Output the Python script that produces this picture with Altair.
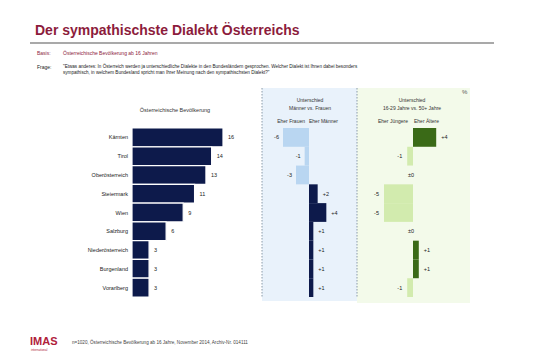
import altair as alt
import pandas as pd

regions = ["Kärnten", "Tirol", "Oberösterreich", "Steiermark", "Wien", "Salzburg",
           "Niederösterreich", "Burgenland", "Vorarlberg"]
total = [16, 14, 13, 11, 9, 6, 3, 3, 3]
gender_diff = [-6, -1, -3, 2, 4, 1, 1, 1, 1]
age_diff = [4, -1, 0, -5, -5, 0, 1, 1, -1]

title_text = "Der sympathischste Dialekt Österreichs"
basis_text = "Österreichische Bevölkerung ab 16 Jahren"
frage_lines = [
    "\"Etwas anderes: In Österreich werden ja unterschiedliche Dialekte in den Bundesländern gesprochen. Welcher Dialekt ist Ihnen dabei besonders",
    "sympathisch, in welchem Bundesland spricht man Ihrer Meinung nach den sympathischsten Dialekt?\"",
]
footer_text = "n=1020, Österreichische Bevölkerung ab 16 Jahre, November 2014, Archiv-Nr. 014111"

FONT = "Liberation Sans"


def fmt(v):
    if v == 0:
        return "±0"
    return f"+{v}" if v > 0 else f"{v}"


df = pd.DataFrame({
    "region": regions,
    "total": total,
    "gender": gender_diff,
    "age": age_diff,
})
df["total_lbl"] = df["total"].astype(str)
df["gender_lbl"] = [fmt(v) for v in gender_diff]
df["age_lbl"] = [fmt(v) for v in age_diff]

base = alt.Chart(df)
Y = alt.Y("region:N", sort=regions,
          scale=alt.Scale(domain=regions, range=[128, 297], paddingInner=0, paddingOuter=0),
          axis=None)

one = alt.Data(values=[{"a": 1}])


def txt(s, x, y, size=5.5, color="#333333", align="left", weight="normal", baseline="middle"):
    return alt.Chart(one).mark_text(
        text=s, fontSize=size, color=color, align=align, fontWeight=weight,
        baseline=baseline, font=FONT
    ).encode(x=alt.value(x), y=alt.value(y))


def rect(x1, x2, y1, y2, color):
    return alt.Chart(one).mark_rect(color=color).encode(
        x=alt.value(x1), x2=alt.value(x2), y=alt.value(y1), y2=alt.value(y2))


def vline(x, y1, y2):
    return alt.Chart(one).mark_rule(color="#8a9aa8", strokeDash=[1.5, 1.5], strokeWidth=1).encode(
        x=alt.value(x), y=alt.value(y1), y2=alt.value(y2))


layers = []
# panel backgrounds
layers.append(rect(262, 357, 88, 301, "#e9f2fb"))
layers.append(rect(357, 470, 88, 303, "#f3faea"))
layers.append(vline(262, 88, 297))
layers.append(vline(357, 88, 297))

# header line
layers.append(alt.Chart(one).mark_rule(color="#8d8d8d", strokeWidth=1.5).encode(
    x=alt.value(30), x2=alt.value(494), y=alt.value(43)))

# Title and texts
layers.append(txt(title_text, 35, 31, size=14, color="#8c1c3c", weight="bold"))
layers.append(txt("Basis:", 37, 53, size=5, color="#8c1c3c"))
layers.append(txt(basis_text, 63, 53, size=5, color="#8c1c3c"))
layers.append(txt("Frage:", 37, 67, size=5, color="#222222"))
layers.append(txt(frage_lines[0], 63, 67, size=4.6, color="#222222"))
layers.append(txt(frage_lines[1], 63, 73, size=4.6, color="#222222"))

# panel headers
layers.append(txt("Österreichische Bevölkerung", 175, 110, align="center"))
layers.append(txt("Unterschied", 310, 100, align="center", size=5))
layers.append(txt("Männer vs. Frauen", 310, 108, align="center", size=5))
layers.append(txt("Eher Frauen", 305, 121, align="right", size=5))
layers.append(txt("Eher Männer", 309, 121, align="left", size=5))
layers.append(txt("Unterschied", 412, 100, align="center", size=5))
layers.append(txt("16-29 Jahre vs. 50+ Jahre", 412, 108, align="center", size=5))
layers.append(txt("Eher Jüngere", 408, 121, align="right", size=5))
layers.append(txt("Eher Ältere", 414, 121, align="left", size=5))
layers.append(txt("%", 462, 92, size=6, color="#555555"))

# Panel 1
x1 = alt.Scale(domain=[0, 16], range=[132, 223])
layers.append(base.mark_bar(color="#0d1a4b", stroke="white", strokeWidth=1.2).encode(
    x=alt.X("total:Q", scale=x1, axis=None), x2=alt.datum(0), y=Y))
layers.append(base.mark_text(align="left", dx=5, fontSize=5.5, font=FONT, color="#222222").encode(
    x=alt.X("total:Q", scale=x1, axis=None), y=Y, text="total_lbl:N"))
layers.append(base.mark_text(align="right", fontSize=5.5, font=FONT, color="#222222").encode(
    x=alt.value(128), y=Y, text="region:N"))

# Panel 2
x2 = alt.Scale(domain=[-6, 6], range=[283, 335])
layers.append(base.transform_filter("datum.gender < 0").mark_bar(color="#b9d6f1").encode(
    x=alt.X("gender:Q", scale=x2, axis=None), x2=alt.datum(0), y=Y))
layers.append(base.transform_filter("datum.gender > 0").mark_bar(color="#0d1a4b").encode(
    x=alt.X("gender:Q", scale=x2, axis=None), x2=alt.datum(0), y=Y))
layers.append(base.transform_filter("datum.gender < 0").mark_text(
    align="right", dx=-4, fontSize=5.5, font=FONT, color="#222222").encode(
    x=alt.X("gender:Q", scale=x2, axis=None), y=Y, text="gender_lbl:N"))
layers.append(base.transform_filter("datum.gender > 0").mark_text(
    align="left", dx=5, fontSize=5.5, font=FONT, color="#222222").encode(
    x=alt.X("gender:Q", scale=x2, axis=None), y=Y, text="gender_lbl:N"))

# Panel 3
x3 = alt.Scale(domain=[-5, 5], range=[384, 442])
layers.append(base.transform_filter("datum.age < 0").mark_bar(color="#d2ebae").encode(
    x=alt.X("age:Q", scale=x3, axis=None), x2=alt.datum(0), y=Y))
layers.append(base.transform_filter("datum.age > 0").mark_bar(color="#3a6a17").encode(
    x=alt.X("age:Q", scale=x3, axis=None), x2=alt.datum(0), y=Y))
layers.append(base.transform_filter("datum.age < 0").mark_text(
    align="right", dx=-5, fontSize=5.5, font=FONT, color="#222222").encode(
    x=alt.X("age:Q", scale=x3, axis=None), y=Y, text="age_lbl:N"))
layers.append(base.transform_filter("datum.age > 0").mark_text(
    align="left", dx=5, fontSize=5.5, font=FONT, color="#222222").encode(
    x=alt.X("age:Q", scale=x3, axis=None), y=Y, text="age_lbl:N"))
layers.append(base.transform_filter("datum.age == 0").mark_text(
    align="center", dx=-2, fontSize=5.5, font=FONT, color="#222222").encode(
    x=alt.X("age:Q", scale=x3, axis=None), y=Y, text="age_lbl:N"))

# Footer
layers.append(txt("IMAS", 30, 342, size=11, color="#b0203a", weight="bold"))
layers.append(txt("international", 31, 350, size=3, color="#b0203a"))
layers.append(txt(footer_text, 72, 343, size=4.6, color="#444444"))

chart = alt.layer(*layers).resolve_scale(x="independent").properties(
    width=535, height=357,
    autosize=alt.AutoSizeParams(type="none"),
    padding=0,
    background="white",
).configure_view(stroke=None)

chart.save("out.html", embed_options={"renderer": "svg", "actions": False})
